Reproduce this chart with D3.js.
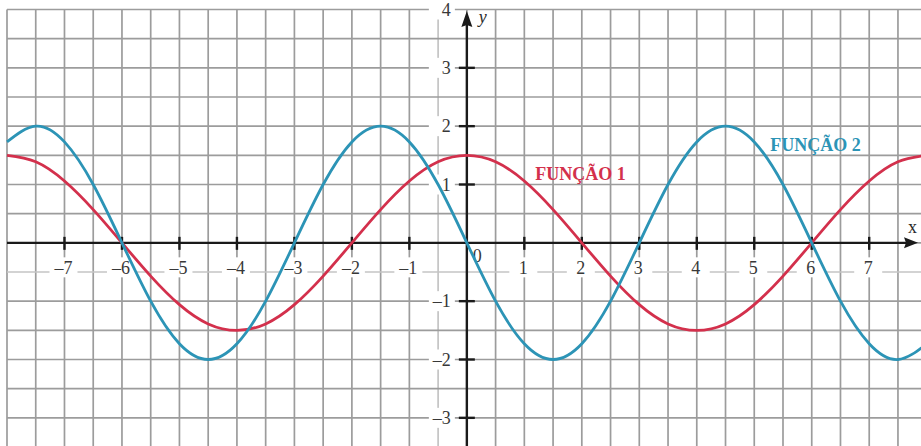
<!DOCTYPE html>
<html>
<head>
<meta charset="utf-8">
<script src="https://cdn.jsdelivr.net/npm/d3@7"></script>
<style>
  html, body { margin: 0; padding: 0; background: #fff; }
  svg { display: block; }
</style>
</head>
<body>
<svg id="chart" width="921" height="446"></svg>
<script>
// Sample abscissas, every half unit across the sheet
const xs = [-8, -7.5, -7, -6.5, -6, -5.5, -5, -4.5, -4, -3.5, -3, -2.5, -2, -1.5, -1, -0.5,
            0, 0.5, 1, 1.5, 2, 2.5, 3, 3.5, 4, 4.5, 5, 5.5, 6, 6.5, 7, 7.5, 8];

// FUNÇÃO 1 values at those abscissas
const funcao1 = [1.5, 1.39, 1.06, 0.57, 0, -0.57, -1.06, -1.39, -1.5, -1.39, -1.06, -0.57, 0, 0.57, 1.06, 1.39,
                 1.5, 1.39, 1.06, 0.57, 0, -0.57, -1.06, -1.39, -1.5, -1.39, -1.06, -0.57, 0, 0.57, 1.06, 1.39, 1.5];

// FUNÇÃO 2 values at those abscissas
const funcao2 = [1.73, 2, 1.73, 1, 0, -1, -1.73, -2, -1.73, -1, 0, 1, 1.73, 2, 1.73, 1,
                 0, -1, -1.73, -2, -1.73, -1, 0, 1, 1.73, 2, 1.73, 1, 0, -1, -1.73, -2, -1.73];

// Axis tick labels
const xTicks = [-7, -6, -5, -4, -3, -2, -1, 1, 2, 3, 4, 5, 6, 7];
const yTicks = [-3, -2, -1, 1, 2, 3, 4];

const svg = d3.select("#chart");
const W = 921, H = 446;

const x = d3.scaleLinear().domain([-8, 8]).range([7, 926.7]);
const y = d3.scaleLinear().domain([4, -3.5]).range([9.5, 447]);

const serif = "'Liberation Serif', 'DejaVu Serif', serif";
const fmt = v => (v < 0 ? "\u2013" + Math.abs(v) : String(v));

// Half-unit grid
const gx = d3.range(-8, 8.01, 0.5);
const gy = d3.range(-3.5, 4.01, 0.5);
const grid = svg.append("g").attr("class", "grid");
grid.selectAll("line.v").data(gx).join("line")
  .attr("class", "v")
  .attr("x1", d => x(d)).attr("x2", d => x(d))
  .attr("y1", y(4)).attr("y2", H)
  .attr("stroke", d => d === -0.5 ? "#c4c4c4" : "#9c9c9c")
  .attr("stroke-width", 1.7);
grid.selectAll("line.h").data(gy).join("line")
  .attr("class", "h")
  .attr("x1", x(-8)).attr("x2", W)
  .attr("y1", d => y(d)).attr("y2", d => y(d))
  .attr("stroke", d => d === -0.5 ? "#c4c4c4" : "#9c9c9c")
  .attr("stroke-width", 1.7);

// Tick labels with white backing
const labels = svg.append("g").attr("font-family", serif).attr("font-size", 18).attr("fill", "#383838");
const xl = labels.selectAll("g.xl").data(xTicks).join("g")
  .attr("class", "xl")
  .attr("transform", d => `translate(${x(d) - 1},${y(-0.42)})`);
xl.append("rect").attr("x", -14).attr("y", -10).attr("width", 28).attr("height", 20).attr("fill", "#fff");
xl.append("text").attr("text-anchor", "middle").attr("dy", "0.35em").text(fmt);

const yl = labels.selectAll("g.yl").data(yTicks).join("g")
  .attr("class", "yl")
  .attr("transform", d => `translate(${x(0) - 16},${y(d)})`);
yl.append("rect").attr("x", -22).attr("y", -10).attr("width", 26).attr("height", 20).attr("fill", "#fff");
yl.append("text").attr("text-anchor", "end").attr("dy", "0.35em").text(fmt);

labels.append("text")
  .attr("x", x(0) + 6).attr("y", y(0) + 19)
  .text("0");

// Axes
const axes = svg.append("g").attr("stroke", "#1a1a1a").attr("fill", "#1a1a1a");
axes.append("line")
  .attr("x1", x(-8)).attr("x2", 908)
  .attr("y1", y(0)).attr("y2", y(0))
  .attr("stroke-width", 2.4);
axes.append("path")
  .attr("d", `M918,${y(0)} L904,${y(0) - 5.5} L906,${y(0)} L904,${y(0) + 5.5} Z`)
  .attr("stroke", "none");
axes.append("line")
  .attr("x1", x(0)).attr("x2", x(0))
  .attr("y1", H).attr("y2", 22)
  .attr("stroke-width", 2.4);
axes.append("path")
  .attr("d", `M${x(0)},11 L${x(0) - 5.5},27 L${x(0)},25 L${x(0) + 5.5},27 Z`)
  .attr("stroke", "none");

axes.selectAll("line.xt").data(xTicks).join("line")
  .attr("class", "xt")
  .attr("x1", d => x(d)).attr("x2", d => x(d))
  .attr("y1", y(0) - 6).attr("y2", y(0) + 7)
  .attr("stroke-width", 2.4);
axes.selectAll("line.yt").data(yTicks.filter(d => d < 4)).join("line")
  .attr("class", "yt")
  .attr("x1", x(0) - 8).attr("x2", x(0) + 8)
  .attr("y1", d => y(d)).attr("y2", d => y(d))
  .attr("stroke-width", 2.4);

svg.append("text")
  .attr("x", x(0) + 12).attr("y", 23)
  .attr("font-family", serif).attr("font-style", "italic").attr("font-size", 18)
  .attr("fill", "#2a2a2a").text("y");
svg.append("text")
  .attr("x", 908).attr("y", y(0) - 10)
  .attr("font-family", serif).attr("font-size", 18)
  .attr("fill", "#2a2a2a").text("x");

// Curves
const line = d3.line()
  .x(d => x(d[0]))
  .y(d => y(d[1]))
  .curve(d3.curveNatural);

const series = [
  { name: "FUNÇÃO 1", values: funcao1, color: "#d3304c" },
  { name: "FUNÇÃO 2", values: funcao2, color: "#2c94b6" }
];

svg.append("g").selectAll("path").data(series).join("path")
  .attr("d", s => line(xs.map((v, i) => [v, s.values[i]])))
  .attr("fill", "none")
  .attr("stroke", s => s.color)
  .attr("stroke-width", 2.8);

// Curve names
svg.append("text")
  .attr("x", x(1.19)).attr("y", y(1.08))
  .attr("font-family", serif).attr("font-weight", "bold").attr("font-size", 18)
  .attr("fill", series[0].color).text(series[0].name);
svg.append("text")
  .attr("x", x(5.28)).attr("y", y(1.58))
  .attr("font-family", serif).attr("font-weight", "bold").attr("font-size", 18)
  .attr("fill", series[1].color).text(series[1].name);
</script>
</body>
</html>
